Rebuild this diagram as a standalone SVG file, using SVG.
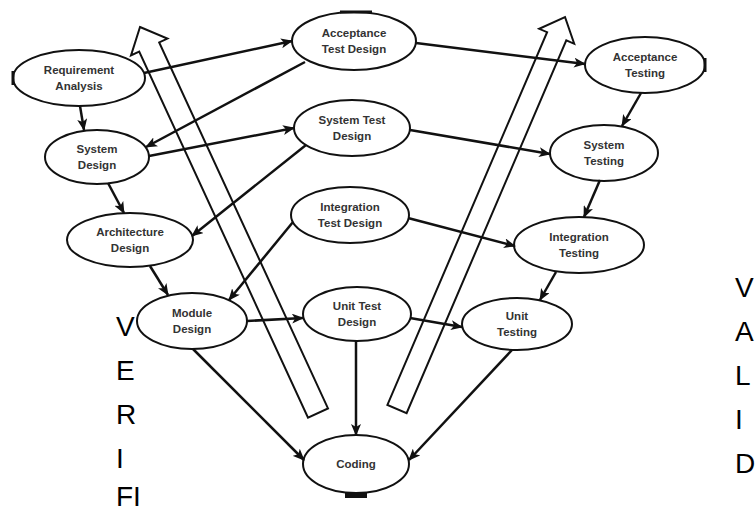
<svg xmlns="http://www.w3.org/2000/svg" width="755" height="513" viewBox="0 0 755 513">
<style>
.n ellipse{fill:#fff;stroke:#111;stroke-width:2}
.n text{font-family:"Liberation Sans",Arial,sans-serif;font-size:11.5px;font-weight:bold;fill:#333;text-anchor:middle}
.c line{stroke:#111;stroke-width:2.5;marker-end:url(#ah)}
.big{fill:#fff;stroke:#111;stroke-width:2;stroke-linejoin:miter}
.lt{font-family:"Liberation Sans",Arial,sans-serif;font-size:28px;fill:#000}
.mk{fill:#111}
</style>
<defs>
<marker id="ah" viewBox="0 0 12 10" refX="11" refY="5" markerWidth="12" markerHeight="10" markerUnits="userSpaceOnUse" orient="auto">
<path d="M0,0 L12,5 L0,10 L3,5 z" fill="#111"/>
</marker>
</defs>
<rect width="755" height="513" fill="#fff"/>

<g id="RA" class="n"><ellipse cx="79" cy="78" rx="66" ry="28"/><text x="79" y="74">Requirement</text><text x="79" y="90">Analysis</text></g>
<g id="SD" class="n"><ellipse cx="97" cy="157" rx="52" ry="27"/><text x="97" y="153">System</text><text x="97" y="169">Design</text></g>
<g id="AD" class="n"><ellipse cx="130" cy="240" rx="63" ry="27"/><text x="130" y="236">Architecture</text><text x="130" y="252">Design</text></g>
<g id="MD" class="n"><ellipse cx="192" cy="321" rx="55" ry="28"/><text x="192" y="317">Module</text><text x="192" y="333">Design</text></g>
<g id="ATD" class="n"><ellipse cx="354" cy="41" rx="62" ry="29"/><text x="354" y="37">Acceptance</text><text x="354" y="53">Test Design</text></g>
<g id="STD" class="n"><ellipse cx="352" cy="128" rx="58" ry="28"/><text x="352" y="124">System Test</text><text x="352" y="140">Design</text></g>
<g id="ITD" class="n"><ellipse cx="350" cy="215" rx="59" ry="28"/><text x="350" y="211">Integration</text><text x="350" y="227">Test Design</text></g>
<g id="UTD" class="n"><ellipse cx="357" cy="314" rx="54" ry="27"/><text x="357" y="310">Unit Test</text><text x="357" y="326">Design</text></g>
<g id="CODING" class="n"><ellipse cx="356" cy="464" rx="53" ry="29"/><text x="356" y="468">Coding</text></g>
<g id="AT" class="n"><ellipse cx="645" cy="65" rx="60" ry="28"/><text x="645" y="61">Acceptance</text><text x="645" y="77">Testing</text></g>
<g id="ST" class="n"><ellipse cx="604" cy="153" rx="54" ry="28"/><text x="604" y="149">System</text><text x="604" y="165">Testing</text></g>
<g id="IT" class="n"><ellipse cx="579" cy="245" rx="65" ry="28"/><text x="579" y="241">Integration</text><text x="579" y="257">Testing</text></g>
<g id="UT" class="n"><ellipse cx="517" cy="324" rx="55" ry="26"/><text x="517" y="320">Unit</text><text x="517" y="336">Testing</text></g>

<rect class="mk" x="345" y="492" width="22" height="6"/>
<rect class="mk" x="340" y="10.5" width="32" height="3"/>
<rect class="mk" x="703.5" y="58" width="3" height="14"/>
<rect class="mk" x="11.5" y="71" width="3" height="14"/>

<g id="bigarrows">
<polygon class="big" points="140,27 167.4,38.6 159.2,42.4 328,408.4 308,417.6 139.2,51.6 131,55.4"/>
<polygon class="big" points="565,17 574.2,43.8 566.3,40.4 406.6,413.1 387.4,404.9 547.1,32.2 539.2,28.8"/>
</g>

<g id="connectors" class="c">
<line x1="80" y1="106" x2="84" y2="130"/>
<line x1="144" y1="73" x2="292" y2="41"/>
<line x1="305" y1="62" x2="146" y2="147"/>
<line x1="416" y1="43" x2="585" y2="64"/>
<line x1="149" y1="156" x2="294" y2="128"/>
<line x1="108" y1="183" x2="124" y2="213"/>
<line x1="306" y1="145" x2="192" y2="236"/>
<line x1="410" y1="130" x2="550" y2="154"/>
<line x1="641" y1="93" x2="622" y2="126"/>
<line x1="150" y1="266" x2="168" y2="295"/>
<line x1="293" y1="222" x2="229" y2="300"/>
<line x1="408" y1="218" x2="515" y2="246"/>
<line x1="600" y1="180" x2="584" y2="217"/>
<line x1="247" y1="321" x2="303" y2="318"/>
<line x1="410" y1="318" x2="462" y2="327"/>
<line x1="556" y1="272" x2="540" y2="300"/>
<line x1="193" y1="349" x2="304" y2="460"/>
<line x1="356" y1="341" x2="356" y2="435"/>
<line x1="512" y1="350" x2="409" y2="460"/>
</g>

<g id="verification">
<text class="lt" x="116" y="336">V</text>
<text class="lt" x="116" y="380">E</text>
<text class="lt" x="116" y="424">R</text>
<text class="lt" x="116" y="468">I</text>
<text class="lt" x="116" y="506">FI</text>
</g>
<g id="validation">
<text class="lt" x="735" y="297">V</text>
<text class="lt" x="735" y="341">A</text>
<text class="lt" x="735" y="385">L</text>
<text class="lt" x="735" y="429">I</text>
<text class="lt" x="735" y="473">D</text>
</g>
</svg>
